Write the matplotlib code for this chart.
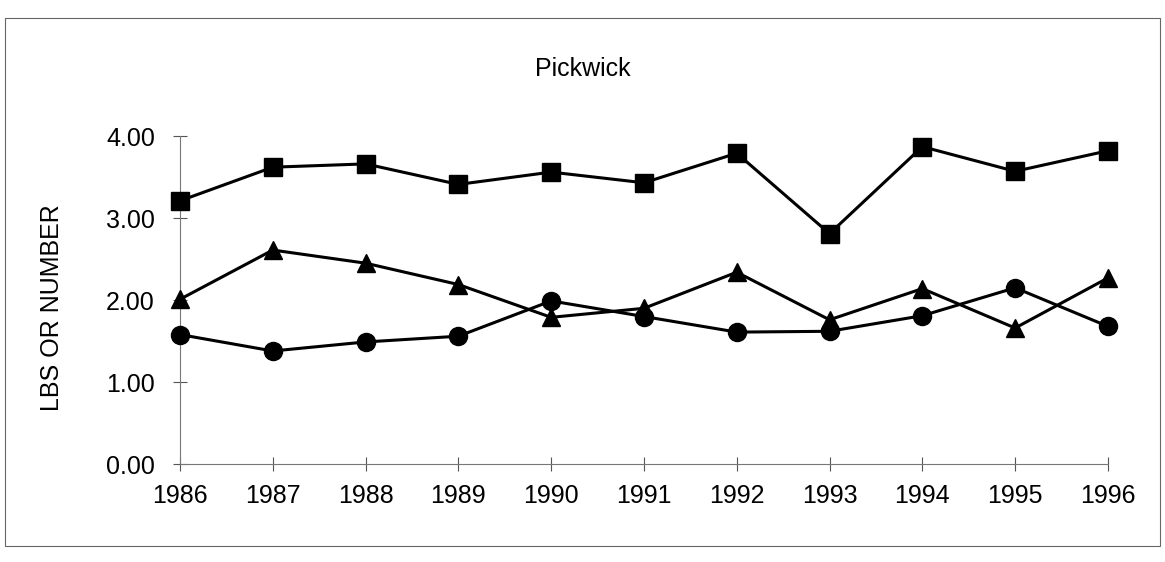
"""
Pickwick line chart, three series with filled markers
"""

import matplotlib
matplotlib.use('Agg')
import matplotlib.pyplot as plt
from matplotlib.patches import Rectangle

###data
years = [1986, 1987, 1988, 1989, 1990, 1991, 1992, 1993, 1994, 1995, 1996]
squares = [3.21, 3.62, 3.66, 3.41, 3.56, 3.43, 3.79, 2.81, 3.87, 3.57, 3.82]
triangles = [2.01, 2.61, 2.45, 2.19, 1.79, 1.90, 2.34, 1.76, 2.14, 1.66, 2.27]
circles = [1.58, 1.38, 1.49, 1.56, 1.99, 1.80, 1.61, 1.62, 1.81, 2.15, 1.68]
yticks = [0, 1, 2, 3, 4]

plt.rcParams['font.family'] = ['Liberation Sans', 'DejaVu Sans']

fig = plt.figure(figsize=(11.65, 5.62), dpi=100)
fig.patch.set_facecolor('white')
plot = fig.add_axes([0.1545, 0.174, 0.7965, 0.584])

###series
for values, marker in zip([squares, triangles, circles], ['s', '^', 'o']):
    plot.plot(years, values, color='black', lw=2.2, marker=marker,
              markersize=13, markerfacecolor='black', markeredgecolor='black',
              clip_on=False, zorder=3)

###axes look (excel style cross ticks)
plot.set_xlim(years[0], years[-1])
plot.set_ylim(0, 4)
plot.set_xticks(years)
plot.set_yticks(yticks)
plot.set_yticklabels(['%.2f' % v for v in yticks])
for side in ['top', 'right']:
    plot.spines[side].set_visible(False)
for side in ['left', 'bottom']:
    plot.spines[side].set_color('#777777')
    plot.spines[side].set_linewidth(0.8)
plot.tick_params(axis='both', direction='inout', length=10, width=0.8,
                 color='#555555', labelsize=18, labelcolor='black')
plot.tick_params(axis='y', pad=13)
plot.tick_params(axis='x', pad=9)

###text
fig.text(0.5, 0.878, 'Pickwick', ha='center', va='center', fontsize=18)
fig.text(0.045, 0.453, 'LBS OR NUMBER', rotation=90, ha='center', va='center',
         fontsize=18)

###outer frame
fig.patches.append(Rectangle((0.004, 0.028), 0.992, 0.94, transform=fig.transFigure,
                             fill=False, edgecolor='#666666', lw=0.8))

fig.savefig('out.png', dpi=100)
